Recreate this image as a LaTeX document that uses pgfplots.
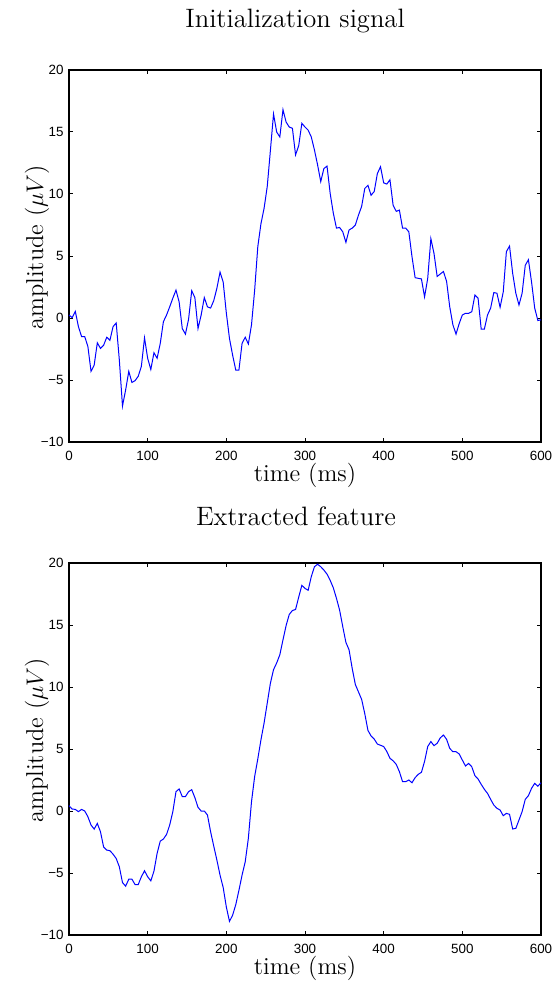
\documentclass[border=0pt]{standalone}
\usepackage{fontspec}
\usepackage{pgfplots}
\pgfplotsset{compat=1.18}
\newfontfamily\ticksf{Liberation Sans}

\pgfplotsset{
  every axis title/.style={anchor=base},
  eegaxis/.style={
    scale only axis,
    width=236pt, height=186pt,
    xmin=0, xmax=600, ymin=-10, ymax=20,
    xtick={0,100,200,300,400,500,600},
    ytick={-10,-5,0,5,10,15,20},
    yticklabels={−10,−5,0,5,10,15,20},
    tick align=inside,
    major tick length=2.2pt,
    tick style={black, line width=0.5pt},
    axis line style={black, line width=0.65pt},
    /pgf/number format/assume math mode=true,
    ticklabel style={font=\fontsize{6.7}{8}\selectfont\ticksf},
    xticklabel style={anchor=north, inner sep=0pt, yshift=-4.5pt},
    yticklabel style={anchor=east, inner sep=0pt, xshift=-2.5pt},
    label style={font=\fontsize{12.2}{14}\selectfont},
    title style={font=\fontsize{13.3}{16}\selectfont},
    xlabel={time (ms)},
    ylabel={amplitude ($\mu V$)},
    xlabel style={at={(axis description cs:0.5,-0.105)}, anchor=base},
    ylabel style={at={(axis description cs:-0.055,0.523)}, anchor=base, rotate=0},
    clip=false,
  }
}

\begin{document}
\begin{tikzpicture}
\path[use as bounding box] (0pt,0pt) rectangle (278.5pt,-491.5pt);

\begin{axis}[eegaxis, at={(34.5pt,-221pt)}, anchor=south west,
  title={Initialization signal},
  title style={at={(axis description cs:0.479,1.113)}}]
\addplot[blue, line width=0.5pt] coordinates {
(0,0.24) (4,0.03) (8,0.54) (12,-0.7) (16,-1.5) (20,-1.5) (24,-2.3) (28,-4.3)
(32,-3.8) (36,-2.0) (40,-2.45) (44,-2.2) (48,-1.55) (52,-1.8) (56,-0.7) (60,-0.4)
(64,-3.4) (68,-7.1) (72,-5.8) (76,-4.3) (80,-5.2) (84,-5.05) (88,-4.7) (92,-3.9)
(96,-1.6) (100,-3.25) (104,-4.15) (108,-2.8) (112,-3.25) (116,-2.05) (120,-0.3)
(124,0.24) (128,0.9) (132,1.6) (136,2.25) (140,1.3) (144,-0.85) (148,-1.3)
(152,-0.1) (156,2.2) (160,1.65) (164,-0.85) (168,0.24) (172,1.65) (176,0.9)
(180,0.8) (184,1.4) (188,2.4) (192,3.7) (196,2.9) (200,0.4) (204,-1.65) (208,-3.0)
(212,-4.2) (216,-4.2) (220,-2.05) (224,-1.55) (228,-2.1) (232,-0.55) (236,2.25)
(240,5.75) (244,7.6) (248,8.85) (252,10.6) (256,13.5) (260,16.45) (264,15.0)
(268,14.6) (272,16.8) (276,15.8) (280,15.4) (284,15.3) (288,13.15) (292,13.9)
(296,15.7) (300,15.4) (304,15.15) (308,14.6) (312,13.55) (316,12.35) (320,11.0)
(324,12.05) (328,12.25) (332,10.05) (336,8.45) (340,7.25) (344,7.3) (348,6.95)
(352,6.1) (356,7.1) (360,7.25) (364,7.5) (368,8.3) (372,9.0) (376,10.45) (380,10.7)
(384,9.9) (388,10.2) (392,11.65) (396,12.2) (400,10.9) (404,10.8) (408,11.15)
(412,9.1) (416,8.6) (420,8.7) (424,7.25) (428,7.25) (432,6.95) (436,4.95) (440,3.25)
(444,3.2) (448,3.15) (452,1.7) (456,3.2) (460,6.4) (464,5.2) (468,3.35) (472,3.55)
(476,3.75) (480,2.95) (484,0.9) (488,-0.55) (492,-1.3) (496,-0.45) (500,0.24)
(504,0.38) (508,0.38) (512,0.5) (516,1.85) (520,1.6) (524,-0.9) (528,-0.9)
(532,0.24) (536,0.8) (540,2.05) (544,2.0) (548,0.86) (552,2.1) (556,5.35) (560,5.8)
(564,3.6) (568,2.0) (572,1.05) (576,2.0) (580,4.25) (584,4.7) (588,2.9) (592,0.8)
(596,-0.2) (600,-0.15)
};
\end{axis}

\begin{axis}[eegaxis, at={(34.5pt,-467.5pt)}, anchor=south west,
  title={Extracted feature},
  title style={at={(axis description cs:0.481,1.1)}}]
\addplot[blue, line width=0.5pt] coordinates {
(0,0.43) (4,0.16) (8,0.13) (12,-0.05) (16,0.13) (20,0) (24,-0.46) (28,-1.13)
(32,-1.46) (36,-1.0) (40,-1.67) (44,-2.9) (48,-3.15) (52,-3.2) (56,-3.48) (60,-3.83)
(64,-4.5) (68,-5.77) (72,-6.06) (76,-5.5) (80,-5.5) (84,-5.93) (88,-5.93) (92,-5.3)
(96,-4.82) (100,-5.3) (104,-5.63) (108,-4.85) (112,-3.42) (116,-2.43) (120,-2.26)
(124,-1.89) (128,-1.13) (132,-0.05) (136,1.56) (140,1.78) (144,1.16) (148,1.16)
(152,1.56) (156,1.72) (160,1.08) (164,0.3) (168,0) (172,0) (176,-0.32) (180,-1.67)
(184,-2.83) (188,-3.96) (192,-5.17) (196,-6.17) (200,-7.74) (204,-8.9) (208,-8.4)
(212,-7.55) (216,-6.4) (220,-5.17) (224,-4.1) (228,-2.2) (232,0.75) (236,2.78)
(240,4.2) (244,5.74) (248,7.1) (252,8.7) (256,10.3) (260,11.4) (264,11.94)
(268,12.6) (272,13.8) (276,14.96) (280,15.85) (284,16.17) (288,16.25) (292,17.25)
(296,18.2) (300,17.95) (304,17.8) (308,18.9) (312,19.7) (316,19.9) (320,19.7)
(324,19.43) (328,19.1) (332,18.6) (336,18.0) (340,17.15) (344,16.2) (348,14.87)
(352,13.6) (356,13.0) (360,11.5) (364,10.2) (368,9.6) (372,9.0) (376,7.85) (380,6.5)
(384,6.05) (388,5.8) (392,5.4) (396,5.3) (400,5.2) (404,4.8) (408,4.25) (412,4.05)
(416,3.76) (420,3.17) (424,2.37) (428,2.37) (432,2.5) (436,2.28) (440,2.69)
(444,2.96) (448,3.12) (452,4.0) (456,5.2) (460,5.6) (464,5.27) (468,5.46) (472,5.9)
(476,6.13) (480,5.78) (484,5.05) (488,4.78) (492,4.78) (496,4.6) (500,4.11)
(504,3.63) (508,3.84) (512,3.57) (516,2.85) (520,2.58) (524,2.15) (528,1.75)
(532,1.42) (536,0.94) (540,0.48) (544,0.22) (548,0.08) (552,-0.38) (556,-0.19)
(560,-0.27) (564,-1.45) (568,-1.4) (572,-0.73) (576,-0.05) (580,0.94) (584,1.24)
(588,1.83) (592,2.23) (596,2.0) (600,2.28)
};
\end{axis}
\end{tikzpicture}
\end{document}
